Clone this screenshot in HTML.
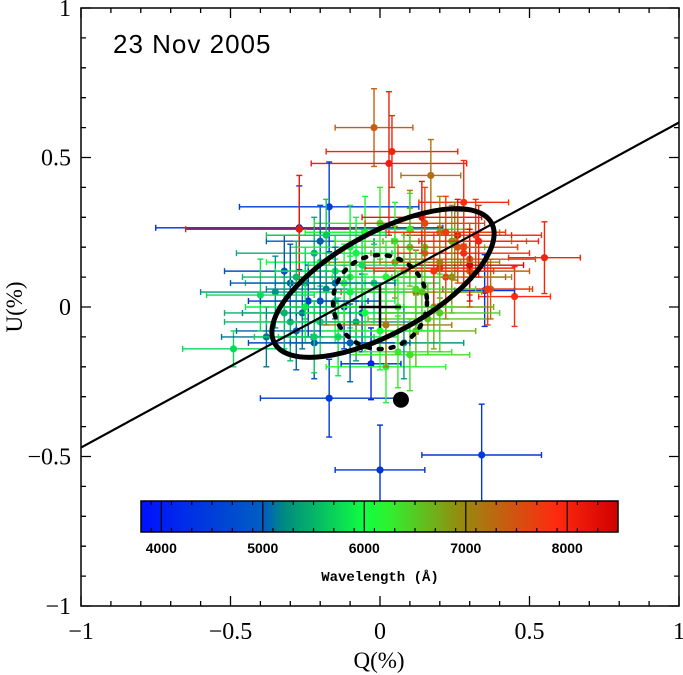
<!DOCTYPE html>
<html><head><meta charset="utf-8"><style>
html,body{margin:0;padding:0;background:#fff;}
svg{display:block;}
text{font-family:"Liberation Serif",serif;}
</style></head><body>
<svg id="chart" width="683" height="675" xmlns="http://www.w3.org/2000/svg">
<defs>
<linearGradient id="cbgrad" x1="0" x2="1" y1="0" y2="0">
<stop offset="0" stop-color="#0010ff"/>
<stop offset="0.26" stop-color="#0060c0"/>
<stop offset="0.30" stop-color="#008a80"/>
<stop offset="0.47" stop-color="#10ff40"/>
<stop offset="0.52" stop-color="#30f030"/>
<stop offset="0.66" stop-color="#909010"/>
<stop offset="0.87" stop-color="#ff2a10"/>
<stop offset="1" stop-color="#d00000"/>
</linearGradient>
</defs>
<g id="marks"></g>
<g id="axes"></g>
</svg>
<script>
const X0=81,X1=679,Y0=8,Y1=606;
const sx=q=>X0+(q+1)/2*(X1-X0);
const sy=u=>Y1-(u+1)/2*(Y1-Y0);
// data: wavelength, Q, U, errQ, errU
const wavelengths=[7500,8100,8150,7300,4300,8000,4100,8200,8100,8000,4200,7400,4200,4300,4300,5700,4000,
6200,6000,5900,6500,7000,7100,7200,7600,7800,8000,8300,5600,5500,5400,5200,5000,4800,4600,4500,4400,
6100,6300,6400,6600,6800,6900,7700,7900,8050,5300,5100,4900,4700,6700,7050,7350,7450,5800,5650,6150,
6250,5950,8250,8400,4350,4250,5250,6550,7250,5450,5750,4650,6350,7850,
5900,6000,6100,5800,6200,5700,6050,5950,6300,6400,5850,6150,7600,7800,8000,7900,7200,6900,5600,5500,
4500,4700,4900,6250,6350,8100,7700,5750,6450,5650];
const qValues=[-0.02,0.04,0.03,0.17,-0.17,0.28,-0.27,-0.27,0.55,0.45,0.35,0.37,0.0,0.34,-0.17,-0.49,-0.03,
-0.1,-0.2,-0.15,0.1,0.2,0.15,0.25,0.3,0.22,0.12,0.26,-0.25,-0.3,-0.22,-0.35,-0.38,-0.28,-0.32,-0.22,-0.12,
-0.05,0.0,0.08,0.14,0.18,0.05,0.28,0.32,0.2,-0.08,-0.18,-0.26,-0.2,0.12,0.24,0.1,0.3,-0.14,-0.02,0.02,
0.06,-0.1,0.14,0.3,-0.06,-0.24,0.08,0.16,0.02,-0.32,-0.4,-0.3,0.1,0.36,
-0.1,-0.05,0.02,-0.15,0.05,-0.2,0.0,-0.08,0.1,0.15,-0.25,-0.12,0.26,0.22,0.28,0.18,0.2,0.24,-0.18,-0.28,
-0.2,-0.1,-0.15,0.06,0.12,0.33,0.15,-0.06,0.2,-0.22];
const uValues=[0.6,0.52,0.48,0.44,0.335,0.35,0.265,0.26,0.165,0.035,0.055,0.06,-0.545,-0.495,-0.305,-0.14,-0.19,
0.1,0.15,0.02,0.2,0.25,0.18,0.22,0.16,0.1,0.05,0.24,0.08,-0.05,0.18,0.05,-0.1,-0.08,0.12,-0.12,0.0,
0.25,0.28,0.12,0.05,0.0,0.15,0.2,0.24,0.13,-0.05,0.06,-0.02,0.22,-0.08,0.1,0.26,0.12,-0.1,0.08,-0.2,
-0.15,0.2,0.3,0.14,-0.02,0.02,-0.12,-0.04,-0.06,-0.02,0.04,0.08,-0.16,0.06,
0.05,-0.02,0.1,0.12,0.22,-0.05,-0.08,0.18,0.26,0.2,0.0,0.08,0.2,0.25,0.18,0.12,0.15,0.22,0.24,0.1,
0.02,-0.12,0.08,0.0,0.06,0.22,0.28,0.14,-0.02,-0.1];
const qErrors=[0.13,0.22,0.26,0.1,0.3,0.15,0.48,0.38,0.12,0.12,0.1,0.13,0.15,0.2,0.23,0.17,0.1,
0.2,0.18,0.2,0.2,0.2,0.18,0.24,0.22,0.2,0.25,0.18,0.2,0.22,0.26,0.25,0.15,0.2,0.2,0.22,0.2,
0.2,0.22,0.18,0.2,0.2,0.22,0.18,0.22,0.25,0.2,0.2,0.2,0.18,0.2,0.2,0.2,0.2,0.2,0.22,0.2,
0.18,0.2,0.2,0.18,0.22,0.2,0.2,0.2,0.22,0.2,0.18,0.2,0.2,0.15,
0.18,0.2,0.18,0.2,0.2,0.18,0.2,0.2,0.18,0.2,0.2,0.18,0.2,0.2,0.22,0.2,0.2,0.2,0.2,0.18,
0.2,0.2,0.2,0.18,0.2,0.2,0.2,0.18,0.2,0.2];
const uErrors=[0.13,0.12,0.24,0.12,0.15,0.14,0.14,0.18,0.12,0.1,0.12,0.1,0.15,0.17,0.13,0.06,0.12,
0.12,0.13,0.14,0.13,0.12,0.12,0.13,0.12,0.14,0.14,0.12,0.12,0.13,0.12,0.12,0.1,0.13,0.12,0.12,0.14,
0.12,0.12,0.12,0.13,0.14,0.12,0.12,0.12,0.12,0.13,0.12,0.12,0.12,0.12,0.12,0.13,0.12,0.13,0.13,0.12,
0.12,0.14,0.12,0.12,0.13,0.12,0.12,0.12,0.14,0.12,0.12,0.13,0.12,0.12,
0.12,0.13,0.12,0.12,0.13,0.12,0.13,0.12,0.12,0.12,0.12,0.13,0.12,0.12,0.12,0.13,0.12,0.12,0.12,0.12,
0.12,0.13,0.12,0.12,0.12,0.12,0.12,0.12,0.13,0.12];
const cbTicks=[4000,5000,6000,7000,8000];
const cbMin=3800,cbMax=8500;
const axisTicks=[-1,-0.5,0,0.5,1];
const axisTickLabels=["\u22121","\u22120.5","0","0.5","1"];
const lineEnds=[[-1,-0.47],[1,0.617]];
const ns="http://www.w3.org/2000/svg";
function mk(tag,attrs,parent){const e=document.createElementNS(ns,tag);for(const k in attrs)e.setAttribute(k,attrs[k]);parent.appendChild(e);return e;}
const stops=[[3800,[0,16,255]],[5000,[0,120,150]],[6000,[16,255,64]],[6200,[48,240,48]],[7000,[144,144,16]],[8000,[255,42,16]],[8500,[208,0,0]]];
function wlColor(w){for(let i=0;i<stops.length-1;i++){const a=stops[i],b=stops[i+1];if(w<=b[0]){const t=Math.max(0,(w-a[0])/(b[0]-a[0]));const c=a[1].map((v,j)=>Math.round(v+(b[1][j]-v)*t));return `rgb(${c})`;}}return 'rgb(208,0,0)';}
const marks=document.getElementById('marks');
for(let i=0;i<wavelengths.length;i++){
 const g=mk('g',{},marks);
 
 
 const col=wlColor(wavelengths[i]);
 const x=sx(qValues[i]),y=sy(uValues[i]);
 const xl=sx(qValues[i]-qErrors[i]),xr=sx(qValues[i]+qErrors[i]);
 const yt=sy(uValues[i]+uErrors[i]),yb=sy(uValues[i]-uErrors[i]);
 const st={stroke:col,'stroke-width':1.4,fill:'none'};
 mk('line',Object.assign({x1:xl,x2:xr,y1:y,y2:y},st),g);
 mk('line',Object.assign({x1:x,x2:x,y1:yt,y2:yb},st),g);
 mk('line',Object.assign({x1:xl,x2:xl,y1:y-3,y2:y+3},st),g);
 mk('line',Object.assign({x1:xr,x2:xr,y1:y-3,y2:y+3},st),g);
 mk('line',Object.assign({x1:x-3,x2:x+3,y1:yt,y2:yt},st),g);
 mk('line',Object.assign({x1:x-3,x2:x+3,y1:yb,y2:yb},st),g);
 mk('circle',{cx:x,cy:y,r:3.6,fill:col},g);
}
const ax=document.getElementById('axes');
const ln=mk('line',{x1:sx(lineEnds[0][0]),y1:sy(lineEnds[0][1]),x2:sx(lineEnds[1][0]),y2:sy(lineEnds[1][1]),stroke:'#000','stroke-width':2.2},ax);


const el=mk('ellipse',{cx:383,cy:283,rx:124,ry:50,transform:'rotate(-29 383 283)',fill:'none',stroke:'#000','stroke-width':5},ax);


const el2=mk('ellipse',{cx:380,cy:302,rx:47,ry:47,fill:'none',stroke:'#000','stroke-width':4.5,'stroke-dasharray':'3 9','stroke-linecap':'round'},ax);


const cr=mk('path',{d:`M${sx(-0.07)} ${sy(0)}H${sx(0.07)}M${sx(0)} ${sy(0.07)}V${sy(-0.07)}`,stroke:'#000','stroke-width':2.5,fill:'none'},ax);


const bd=mk('circle',{cx:sx(0.07),cy:sy(-0.31),r:8,fill:'#000'},ax);


const fr=mk('rect',{x:X0,y:Y0,width:X1-X0,height:Y1-Y0,fill:'none',stroke:'#000','stroke-width':1.5},ax);


let tp='';
for(let k=-10;k<=10;k++){const v=k/10;const L=(k%5===0)?10:5;
 tp+=`M${sx(v)} ${Y1}v${-L}M${sx(v)} ${Y0}v${L}M${X0} ${sy(v)}h${L}M${X1} ${sy(v)}h${-L}`;}
const tk=mk('path',{d:tp,stroke:'#000','stroke-width':1.3,fill:'none'},ax);


axisTicks.forEach((v,i)=>{
 const t=mk('text',{x:sx(v),y:Y1+33,'text-anchor':'middle','font-size':24},ax);t.textContent=axisTickLabels[i];
 
 
 const t2=mk('text',{x:X0-10,y:sy(v)+8,'text-anchor':'end','font-size':24},ax);t2.textContent=axisTickLabels[i];
 
 
});
const xt=mk('text',{x:379,y:668,'text-anchor':'middle','font-size':23},ax);xt.textContent='Q(%)';


const yt=mk('text',{x:22,y:307,'text-anchor':'middle','font-size':23,transform:'rotate(-90 22 307)'},ax);yt.textContent='U(%)';


const ti=mk('text',{x:113,y:53,'font-size':26,style:'font-family:"Liberation Sans",sans-serif;letter-spacing:1px'},ax);ti.textContent='23 Nov 2005';


const CB0=141,CB1=618,CBT=501,CBB=532;
const cbx=w=>CB0+(w-cbMin)/(cbMax-cbMin)*(CB1-CB0);
const cb=mk('rect',{x:CB0,y:CBT,width:CB1-CB0,height:CBB-CBT,fill:'url(#cbgrad)',stroke:'#000','stroke-width':1.5},ax);


let cp='';
for(let w=3900;w<=8400;w+=200){cp+=`M${cbx(w)} ${CBT}v4M${cbx(w)} ${CBB}v-4`;}
cbTicks.forEach(w=>{cp+=`M${cbx(w)} ${CBT}V${CBB}`;});
const cbt=mk('path',{d:cp,stroke:'#000','stroke-width':1.2,fill:'none'},ax);


cbTicks.forEach(w=>{const t=mk('text',{x:cbx(w),y:553,'text-anchor':'middle','font-size':14,'font-weight':'bold',style:'font-family:"Liberation Sans",sans-serif'},ax);t.textContent=w;
 
 });
const cl=mk('text',{x:380,y:581,'text-anchor':'middle','font-size':14,'font-weight':'bold',style:'font-family:"Liberation Mono",monospace'},ax);cl.textContent='Wavelength (\u00c5)';


</script>
</body></html>
